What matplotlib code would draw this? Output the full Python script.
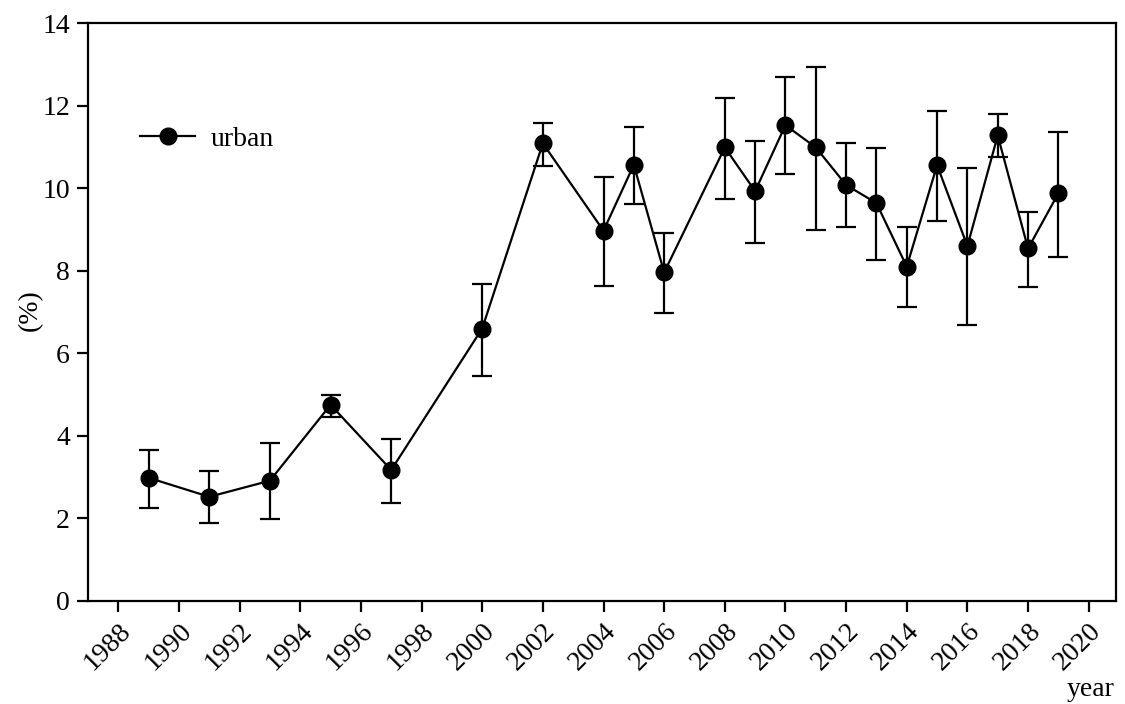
import matplotlib
matplotlib.use("Agg")
import matplotlib.pyplot as plt
from matplotlib.lines import Line2D
import numpy as np

plt.rcParams['font.family'] = ['Liberation Serif', 'DejaVu Serif']

years = [1989, 1991, 1993, 1995, 1997, 2000, 2002, 2004, 2005, 2006, 2008, 2009,
         2010, 2011, 2012, 2013, 2014, 2015, 2016, 2017, 2018, 2019]
urban = [2.98, 2.52, 2.91, 4.75, 3.17, 6.60, 11.09, 8.97, 10.57, 7.96, 10.99, 9.93,
         11.53, 10.99, 10.08, 9.64, 8.10, 10.56, 8.60, 11.28, 8.54, 9.88]
err_hi = [3.65, 3.15, 3.82, 4.98, 3.93, 7.68, 11.59, 10.27, 11.49, 8.91, 12.20, 11.15,
          12.69, 12.95, 11.09, 10.98, 9.05, 11.87, 10.48, 11.80, 9.42, 11.36]
err_lo = [2.26, 1.89, 1.98, 4.46, 2.38, 5.45, 10.54, 7.63, 9.62, 6.97, 9.74, 8.67,
          10.34, 8.99, 9.07, 8.25, 7.12, 9.20, 6.69, 10.75, 7.61, 8.34]
xticks = list(range(1988, 2021, 2))
yticks = [0, 2, 4, 6, 8, 10, 12, 14]

y = np.array(urban)
yerr = [y - np.array(err_lo), np.array(err_hi) - y]

fig = plt.figure(figsize=(11.25, 7.04), dpi=100)
ax = fig.add_axes([0.0782, 0.1467, 0.9138, 0.8202])

ax.errorbar(years, urban, yerr=yerr, color='black', marker='o', markersize=12,
            linewidth=1.6, elinewidth=1.6, capsize=7, capthick=1.6)

ax.set_xlim(1987.0, 2020.9)
ax.set_ylim(0, 14)
ax.set_xticks(xticks)
ax.set_xticklabels([str(t) for t in xticks], rotation=45, ha='right', rotation_mode='anchor')
ax.set_yticks(yticks)
ax.tick_params(direction='out', length=8, width=1.6, labelsize=20, pad=5)
for s in ax.spines.values():
    s.set_linewidth(1.6)

handle = Line2D([], [], color='black', marker='o', markersize=12, linewidth=1.6)
ax.legend([handle], ['urban'], loc='center left', bbox_to_anchor=(0.037, 0.80),
          frameon=False, fontsize=20, handlelength=2.0, borderpad=0, handletextpad=0.55)

fig.text(0.027, 0.56, '(%)', rotation=90, fontsize=20, ha='center', va='center')
fig.text(0.969, 0.02, 'year', fontsize=20, ha='center', va='center')

fig.savefig('out.png', dpi=100)
